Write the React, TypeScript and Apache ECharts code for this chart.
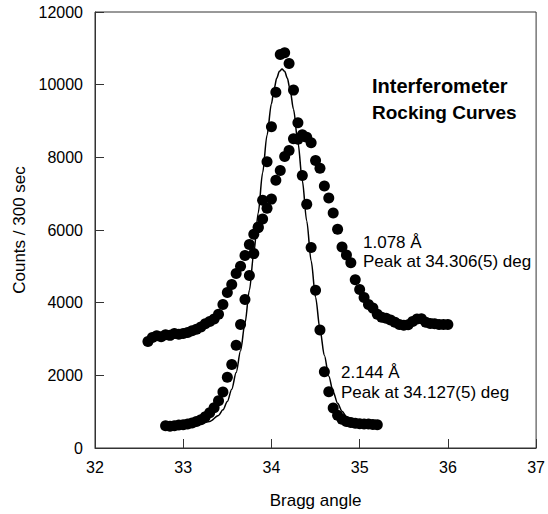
import React, { useEffect, useRef } from "react";
import * as echarts from "echarts";

const xTickLabels = ["32", "33", "34", "35", "36", "37"];
const yTickLabels = ["0", "2000", "4000", "6000", "8000", "10000", "12000"];

// 2.144 Å reflection (narrow curve), measured points
const narrowAngle = [
  32.8, 32.85, 32.9, 32.95, 33.0, 33.05, 33.1, 33.15, 33.2, 33.25, 33.3, 33.35,
  33.4, 33.45, 33.5, 33.55, 33.6, 33.65, 33.7, 33.75, 33.8, 33.85, 33.9, 33.95,
  34.0, 34.05, 34.1, 34.15, 34.2, 34.25, 34.3, 34.35, 34.4, 34.45, 34.5, 34.55,
  34.6, 34.65, 34.7, 34.75, 34.8, 34.85, 34.9, 34.95, 35.0, 35.05, 35.1, 35.15, 35.2,
];
const narrowCounts = [
  615, 600, 615, 630, 640, 660, 690, 730, 780, 860, 970, 1110,
  1300, 1540, 1950, 2300, 2830, 3400, 4090, 4750, 5350, 6060, 6820, 7880,
  8840, 9790, 10830, 10880, 10580, 9850, 8950, 7500, 6710, 5520, 4340, 3250,
  2100, 1550, 1100, 900, 790, 730, 700, 680, 670, 660, 660, 650, 640,
];

// fitted curve through the 2.144 Å points
const fitAngle = [
  32.8, 33.0, 33.2, 33.3, 33.4, 33.45, 33.5, 33.55, 33.6, 33.65, 33.7, 33.75,
  33.8, 33.85, 33.9, 33.95, 34.0, 34.03, 34.06, 34.09, 34.12, 34.15, 34.18, 34.21,
  34.25, 34.3, 34.35, 34.4, 34.45, 34.5, 34.55, 34.6, 34.65, 34.7, 34.75, 34.8,
  34.85, 34.9, 35.0, 35.2,
];
const fitCounts = [
  650, 651, 674, 732, 894, 1050, 1282, 1618, 2078, 2679, 3437, 4340,
  5364, 6469, 7574, 8611, 9477, 9882, 10182, 10367, 10430, 10367, 10182, 9882,
  9321, 8415, 7360, 6247, 5153, 4150, 3271, 2547, 1973, 1542, 1230, 1014,
  870, 779, 690, 651,
];

// 1.078 Å reflection (broad curve), measured points
const broadAngle = [
  32.6, 32.65, 32.7, 32.75, 32.8, 32.85, 32.9, 32.95, 33.0, 33.05, 33.1, 33.15,
  33.2, 33.25, 33.3, 33.35, 33.4, 33.45, 33.5, 33.55, 33.6, 33.65, 33.7, 33.75,
  33.8, 33.85, 33.9, 33.95, 34.0, 34.05, 34.1, 34.15, 34.2, 34.25, 34.3, 34.35,
  34.4, 34.45, 34.5, 34.55, 34.6, 34.65, 34.7, 34.75, 34.8, 34.85, 34.9, 34.95,
  35.0, 35.05, 35.1, 35.15, 35.2, 35.25, 35.3, 35.35, 35.4, 35.45, 35.5, 35.55,
  35.6, 35.65, 35.7, 35.75, 35.8, 35.85, 35.9, 35.95, 36.0,
];
const broadCounts = [
  2930, 3040, 3090, 3060, 3120, 3100, 3150, 3130, 3150, 3180, 3230, 3270,
  3330, 3420, 3480, 3550, 3680, 3950, 4280, 4500, 4800, 5000, 5300, 5600,
  5880, 6080, 6300, 6600, 6850, 7370, 7640, 8020, 8190, 8510, 8500, 8620,
  8550, 8400, 7910, 7700, 7210, 6880, 6470, 6020, 5530, 5310, 5100, 4630,
  4360, 4140, 3950, 3850, 3680, 3600, 3570, 3520, 3460, 3400, 3380, 3390,
  3480, 3550, 3560, 3460, 3430, 3420, 3400, 3400, 3400,
];

const FONT = '"Liberation Sans", Arial, sans-serif';

function zip(a: number[], b: number[]) {
  return a.map((v, i) => [v, b[i]]);
}

export default function App() {
  const ref = useRef<HTMLDivElement>(null);
  useEffect(() => {
    document.body.style.margin = "0";
    const chart = echarts.init(ref.current!, null, { renderer: "svg" });
    const axisColor = "#333";
    chart.setOption({
      animation: false,
      backgroundColor: "#fff",
      textStyle: { fontFamily: FONT },
      grid: {
        left: 95,
        top: 12,
        right: 9,
        bottom: 61,
        show: true,
        borderColor: axisColor,
        borderWidth: 1,
        backgroundColor: "transparent",
      },
      xAxis: {
        type: "value",
        min: Number(xTickLabels[0]),
        max: Number(xTickLabels[xTickLabels.length - 1]),
        interval: 1,
        name: "Bragg angle",
        nameLocation: "middle",
        nameGap: 44,
        nameTextStyle: { fontSize: 17, color: "#000", fontFamily: FONT },
        axisLine: { lineStyle: { color: axisColor, width: 1 } },
        axisTick: { inside: true, length: 9, lineStyle: { color: axisColor } },
        axisLabel: {
          fontSize: 16,
          color: "#000",
          margin: 11,
          fontFamily: FONT,
          formatter: (v: number) => xTickLabels[Math.round(v - Number(xTickLabels[0]))] ?? String(v),
        },
        splitLine: { show: false },
      },
      yAxis: {
        type: "value",
        min: Number(yTickLabels[0]),
        max: Number(yTickLabels[yTickLabels.length - 1]),
        interval: 2000,
        name: "Counts / 300 sec",
        nameLocation: "middle",
        nameGap: 63,
        nameTextStyle: { fontSize: 17, color: "#000", fontFamily: FONT },
        axisLine: { show: true, lineStyle: { color: axisColor, width: 1 } },
        axisTick: { show: true, inside: true, length: 9, lineStyle: { color: axisColor } },
        axisLabel: {
          fontSize: 16,
          color: "#000",
          margin: 12,
          fontFamily: FONT,
          formatter: (v: number) => yTickLabels[Math.round(v / 2000)] ?? String(v),
        },
        splitLine: { show: false },
      },
      series: [
        {
          name: "1.078 Å",
          type: "scatter",
          data: zip(broadAngle, broadCounts),
          symbol: "circle",
          symbolSize: 11,
          itemStyle: { color: "#000", opacity: 1 },
        },
        {
          name: "2.144 Å",
          type: "scatter",
          data: zip(narrowAngle, narrowCounts),
          symbol: "circle",
          symbolSize: 11,
          itemStyle: { color: "#000", opacity: 1 },
        },
        {
          name: "fit",
          type: "line",
          data: zip(fitAngle, fitCounts),
          showSymbol: false,
          smooth: 0.3,
          smoothMonotone: "x",
          lineStyle: { color: "#000", width: 1.5 },
          z: 3,
        },
      ],
      graphic: [
        {
          type: "text",
          x: 372,
          y: 86,
          style: { text: "Interferometer", fontSize: 20, fontWeight: "bold", fontFamily: FONT, fill: "#000", verticalAlign: "middle" },
        },
        {
          type: "text",
          x: 372,
          y: 112,
          style: { text: "Rocking Curves", fontSize: 19, fontWeight: "bold", fontFamily: FONT, fill: "#000", verticalAlign: "middle" },
        },
        {
          type: "text",
          x: 363,
          y: 242,
          style: { text: "1.078 Å", fontSize: 17, fontFamily: FONT, fill: "#000", verticalAlign: "middle" },
        },
        {
          type: "text",
          x: 363,
          y: 261,
          style: { text: "Peak at 34.306(5) deg", fontSize: 17, fontFamily: FONT, fill: "#000", verticalAlign: "middle" },
        },
        {
          type: "text",
          x: 341,
          y: 372,
          style: { text: "2.144 Å", fontSize: 17, fontFamily: FONT, fill: "#000", verticalAlign: "middle" },
        },
        {
          type: "text",
          x: 341,
          y: 392,
          style: { text: "Peak at 34.127(5) deg", fontSize: 17, fontFamily: FONT, fill: "#000", verticalAlign: "middle" },
        },
      ],
    });
    return () => chart.dispose();
  }, []);
  return <div ref={ref} style={{ width: 548, height: 514 }} />;
}
